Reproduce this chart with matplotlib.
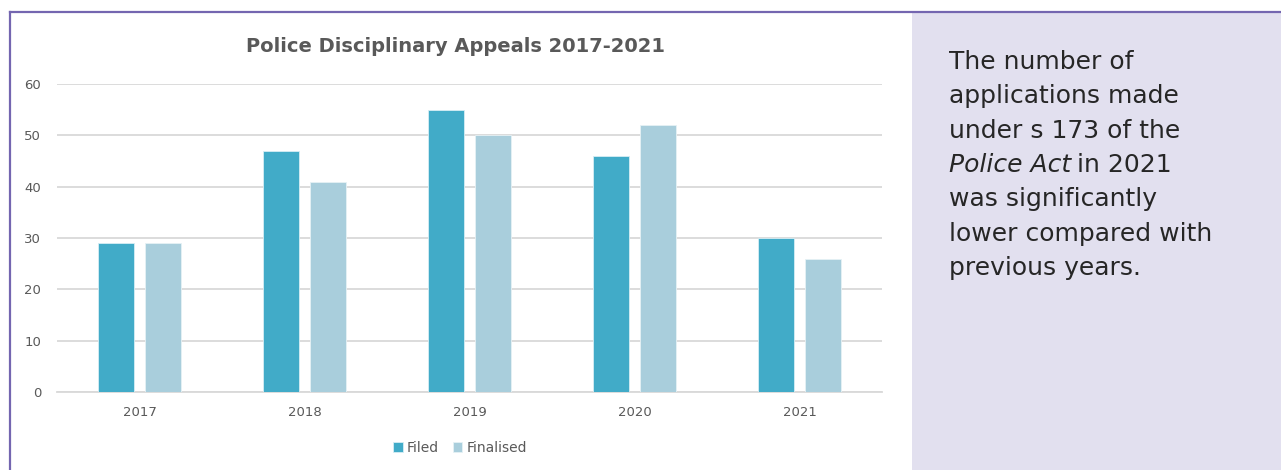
import matplotlib.pyplot as plt
import numpy as np
from matplotlib.patches import Rectangle

years = ["2017", "2018", "2019", "2020", "2021"]
filed = [29, 47, 55, 46, 30]
finalised = [29, 41, 50, 52, 26]

FILED_COLOR = "#41ABC8"
FINAL_COLOR = "#A9CEDC"
TEXT_GREY = "#595959"
GRID_GREY = "#D9D9D9"
PANEL_FILL = "#E2E0EF"
FRAME = "#7466B0"

plt.rcParams["font.family"] = ["DejaVu Sans"]

fig = plt.figure(figsize=(12.81, 4.70), dpi=100)
W, H = 1281, 470

# side note panel and outer frame
fig.patches.append(Rectangle((912 / W, 0), 1 - 912 / W, 1 - 12 / H,
                             transform=fig.transFigure, facecolor=PANEL_FILL,
                             edgecolor="none", zorder=0))
fig.add_artist(plt.Line2D([10 / W, 1], [1 - 12 / H, 1 - 12 / H],
                          transform=fig.transFigure, color=FRAME, lw=1.6))
fig.add_artist(plt.Line2D([10 / W, 10 / W], [0, 1 - 12 / H],
                          transform=fig.transFigure, color=FRAME, lw=1.6))

ax = fig.add_axes([57 / W, 1 - 392 / H, 825 / W, 308 / H])
x = np.arange(len(years))
w = 0.223
off = 0.142
ax.bar(x - off, filed, w, color=FILED_COLOR, edgecolor="#D6EEF4",
       linewidth=0.6, label="Filed", zorder=3)
ax.bar(x + off, finalised, w, color=FINAL_COLOR, edgecolor="#E6F1F5",
       linewidth=0.6, label="Finalised", zorder=3)

ax.set_xlim(-0.5, 4.5)
ax.set_ylim(0, 60)
ax.set_yticks(range(0, 61, 10))
ax.set_xticks(x)
ax.set_xticklabels(years)
ax.yaxis.grid(True, color=GRID_GREY, lw=1.3)
ax.set_axisbelow(True)
for s in ["top", "right", "left"]:
    ax.spines[s].set_visible(False)
ax.spines["bottom"].set_color(GRID_GREY)
ax.spines["bottom"].set_linewidth(1.3)
ax.tick_params(axis="both", length=0, labelsize=9.5, colors=TEXT_GREY)
ax.tick_params(axis="x", pad=10)
ax.tick_params(axis="y", pad=11.5)

fig.text(455 / W, 1 - 47 / H, "Police Disciplinary Appeals 2017-2021",
         ha="center", va="center", fontsize=14, fontweight="bold",
         color=TEXT_GREY)

fig.legend(loc="center", bbox_to_anchor=(460 / W, 1 - 448 / H), ncol=2,
           frameon=False, fontsize=10, labelcolor=TEXT_GREY,
           handlelength=0.7, handleheight=0.7, handletextpad=0.3,
           columnspacing=1.0)

note = ["The number of", "applications made", "under s 173 of the",
        None, "was significantly", "lower compared with", "previous years."]
y0 = 62
fs = 18
for i, line in enumerate(note):
    ypos = 1 - (y0 + i * 34.3) / H
    if line is None:
        # italic act name followed by upright text on the same line
        t1 = fig.text(949 / W, ypos, "Police Act", fontsize=fs,
                      color="#262626", style="italic", va="center")
        fig.canvas.draw()
        bb = t1.get_window_extent()
        fig.text((bb.x1 + 6) / W, ypos, "in 2021",
                 fontsize=fs, color="#262626", va="center")
    else:
        fig.text(949 / W, ypos, line, fontsize=fs, color="#262626",
                 va="center")

fig.savefig("out.png", dpi=100)
